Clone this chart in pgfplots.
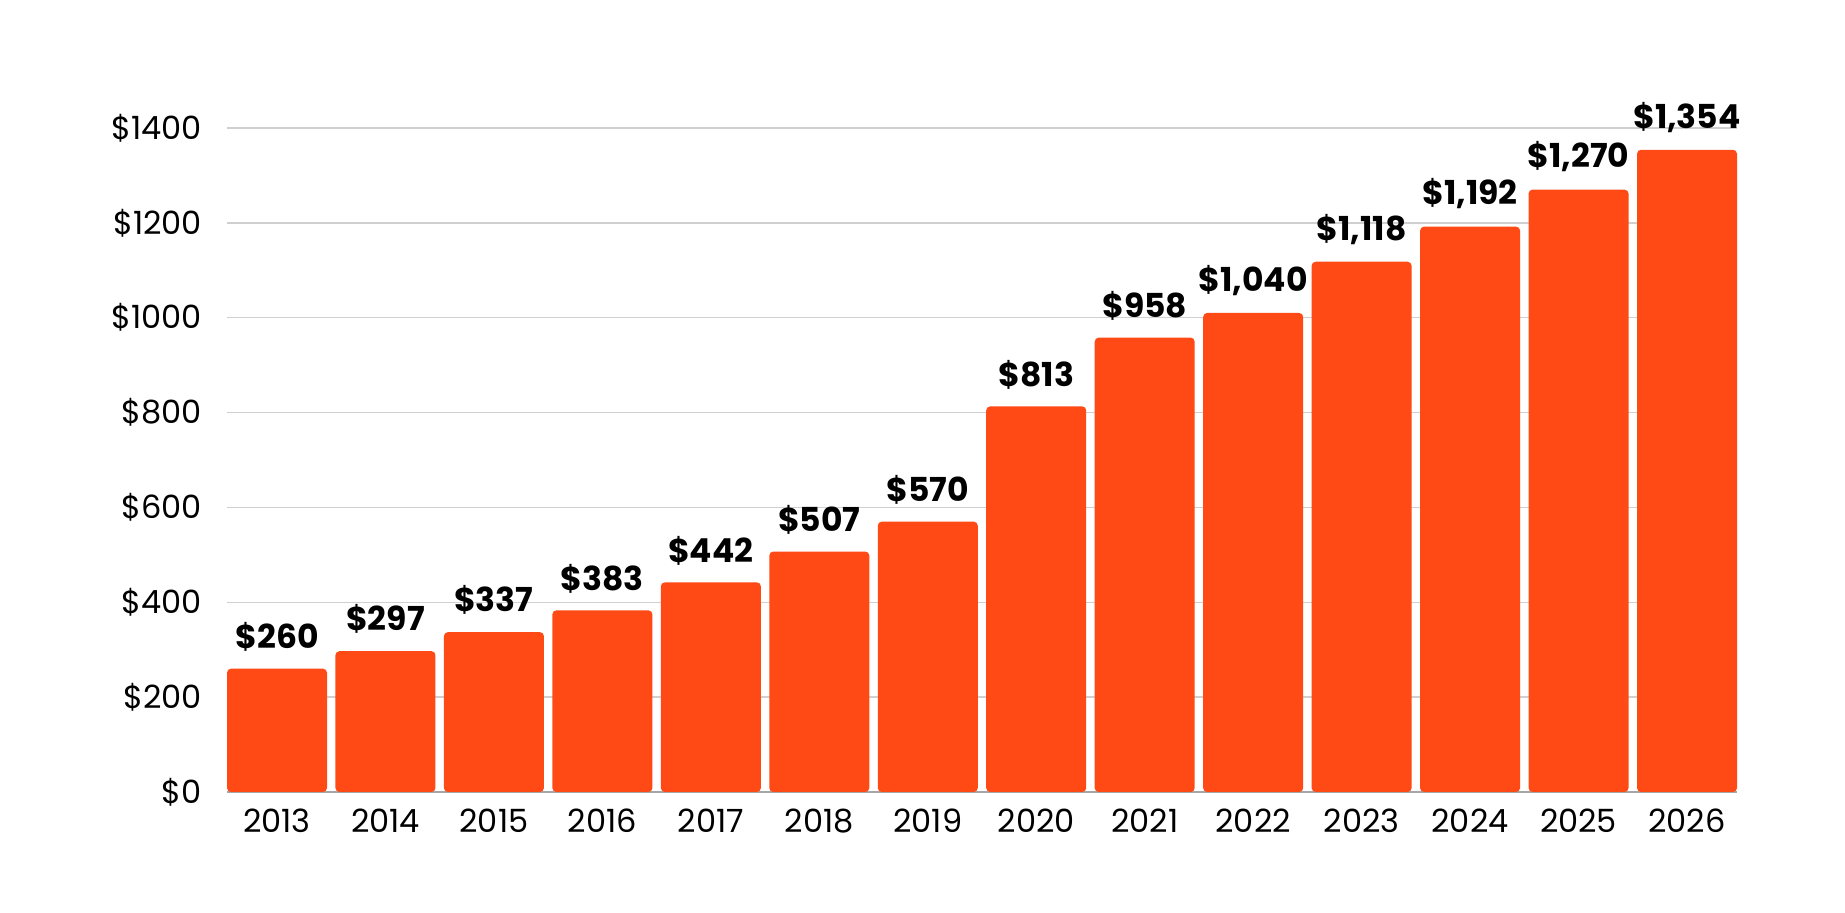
\documentclass[border=0pt]{standalone}
\usepackage{fontspec}
\setmainfont{Poppins}
\usepackage{pgfplots}
\pgfplotsset{compat=1.18}
\definecolor{barred}{RGB}{255,74,22}
\definecolor{gridgray}{RGB}{208,208,208}

\begin{document}
\begin{tikzpicture}
\begin{axis}[
    at={(0,0)}, anchor=south west,
    scale only axis,
    width=755pt, height=332pt,
    xmin=2012.539, xmax=2026.461,
    ymin=0, ymax=1400,
    ybar, bar width=0.922,
    xtick=data,
    ytick={0,200,...,1400},
    axis x line*=bottom,
    axis y line*=left,
    y axis line style={draw=none},
    x axis line style={draw=gray!70, line width=0.6pt},
    major tick length=0pt,
    ymajorgrids,
    grid style={gridgray, line width=0.75pt},
    /pgf/number format/assume math mode=true,
    /pgf/number format/1000 sep={},
    ticklabel style={font=\fontsize{16}{18}\selectfont, black},
    xticklabel style={yshift=-5pt},
    yticklabel={\$\pgfmathprintnumber{\tick}},
    yticklabel style={xshift=-9pt},
    point meta=explicit symbolic,
    nodes near coords,
    nodes near coords style={font=\bfseries\fontsize{16.5}{18}\selectfont, black, anchor=south, inner sep=0pt, yshift=8.5pt},
    clip=false,
]
% bar heights as drawn; labels as printed (2022 bar is drawn lower than its label)
\addplot[fill=barred, draw=none, rounded corners=2pt] coordinates {
    (2013,260) [\$260]
    (2014,297) [\$297]
    (2015,337) [\$337]
    (2016,383) [\$383]
    (2017,442) [\$442]
    (2018,507) [\$507]
    (2019,570) [\$570]
    (2020,813) [\$813]
    (2021,958) [\$958]
    (2022,1010) [\$1{,}040]
    (2023,1118) [\$1{,}118]
    (2024,1192) [\$1{,}192]
    (2025,1270) [\$1{,}270]
    (2026,1354) [\$1{,}354]
};
\end{axis}
\useasboundingbox (-113.5pt,-60.5pt) rectangle (809pt,396pt);
\end{tikzpicture}
\end{document}
